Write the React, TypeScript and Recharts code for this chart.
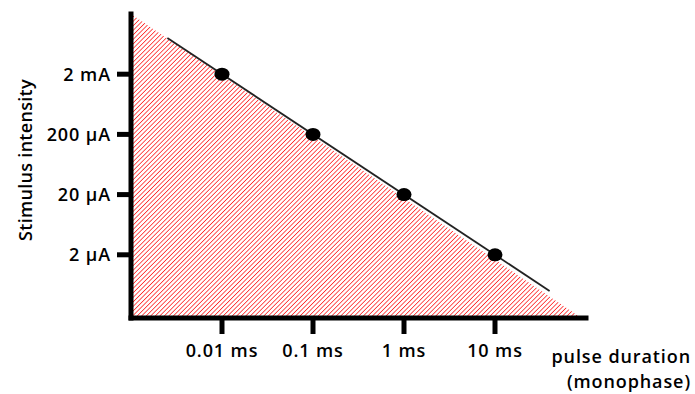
import React from 'react';
import { ComposedChart, Area, Line, Scatter, XAxis, YAxis, Label } from 'recharts';

// log10 scale positions: x = log10(ms), y = log10(I / 2 µA)
const durations = [-2, -1, 0, 1];
const durationLabels = ['0.01 ms', '0.1 ms', '1 ms', '10 ms'];
const intensityTicks = [0, 1, 2, 3];
const intensityLabels = ['2 µA', '20 µA', '200 µA', '2 mA'];
const thresholds = [3, 2, 1, 0];

// shaded (stimulating) region corners along the hypotenuse
const regionDurations = [-3, 1.95];
const regionIntensities = [4, -1.05];

// strength-duration line drawn through the points
const fitDurations = [-2.6, 1.6];
const fitIntensities = [3.6, -0.6];

const regionData = regionDurations.map((x, i) => ({ x, y: regionIntensities[i] }));
const fitData = fitDurations.map((x, i) => ({ x, y: fitIntensities[i] }));
const pointData = durations.map((x, i) => ({ x, y: thresholds[i] }));

const font = {
  fontFamily: '"Open Sans", sans-serif',
  fontWeight: 600,
  fontSize: 18,
  fill: '#000',
  letterSpacing: 0.9,
};

const axisLine = { stroke: '#000', strokeWidth: 5, strokeLinecap: 'square' as const };
const tickLine = { stroke: '#000', strokeWidth: 5 };

const Dot = (props: any) => (
  <ellipse cx={props.cx} cy={props.cy} rx={7.5} ry={6.5} fill="#000" />
);

const XTitle = (props: any) => {
  const vb = props.viewBox || {};
  const x = (vb.x ?? 131) + (vb.width ?? 455) + 105;
  const y = vb.y ?? 318;
  return (
    <text x={x} y={y} textAnchor="end" style={font}>
      <tspan x={x} y={y + 45}>pulse duration</tspan>
      <tspan x={x} y={y + 70}>(monophase)</tspan>
    </text>
  );
};

const YTitle = (props: any) => {
  const vb = props.viewBox || {};
  const cy = (vb.y ?? 14) + (vb.height ?? 304) / 2 - 6;
  const cx = 25;
  return (
    <text
      x={cx}
      y={cy}
      textAnchor="middle"
      dominantBaseline="central"
      transform={`rotate(-90, ${cx}, ${cy})`}
      style={{ ...font, letterSpacing: 0.3 }}
    >
      Stimulus intensity
    </text>
  );
};

export default function App() {
  return (
    <div style={{ position: 'absolute', left: 0, top: 0, background: '#fff' }}>
      <ComposedChart
        width={695}
        height={394}
        margin={{ top: 14, right: 109, left: 0, bottom: 16 }}
      >
        <defs>
          <pattern
            id="hatch"
            patternUnits="userSpaceOnUse"
            width={3.2}
            height={3.2}
            patternTransform="rotate(45)"
          >
            <line x1={0} y1={0} x2={0} y2={3.2} stroke="#ff2b2b" strokeWidth={1.6} />
          </pattern>
        </defs>
        <Area
          data={regionData}
          dataKey="y"
          type="linear"
          baseValue="dataMin"
          fill="url(#hatch)"
          fillOpacity={1}
          stroke="none"
          isAnimationActive={false}
        />
        <Line
          data={fitData}
          dataKey="y"
          type="linear"
          stroke="#222"
          strokeWidth={1.8}
          dot={false}
          activeDot={false}
          isAnimationActive={false}
        />
        <Scatter data={pointData} dataKey="y" shape={Dot} isAnimationActive={false} />
        <XAxis
          type="number"
          dataKey="x"
          domain={[-3, 2]}
          allowDataOverflow
          ticks={durations}
          tickFormatter={(v: number) => durationLabels[durations.indexOf(v)] ?? ''}
          axisLine={axisLine}
          tickLine={tickLine}
          tickSize={16}
          tickMargin={10}
          tick={font}
          height={60}
          interval={0}
        >
          <Label content={XTitle} />
        </XAxis>
        <YAxis
          type="number"
          dataKey="y"
          domain={[-1.05, 4]}
          allowDataOverflow
          ticks={intensityTicks}
          tickFormatter={(v: number) => intensityLabels[intensityTicks.indexOf(v)] ?? ''}
          axisLine={axisLine}
          tickLine={tickLine}
          tickSize={14}
          tickMargin={6}
          tick={font}
          width={131}
          interval={0}
        >
          <Label content={YTitle} />
        </YAxis>
      </ComposedChart>
    </div>
  );
}
